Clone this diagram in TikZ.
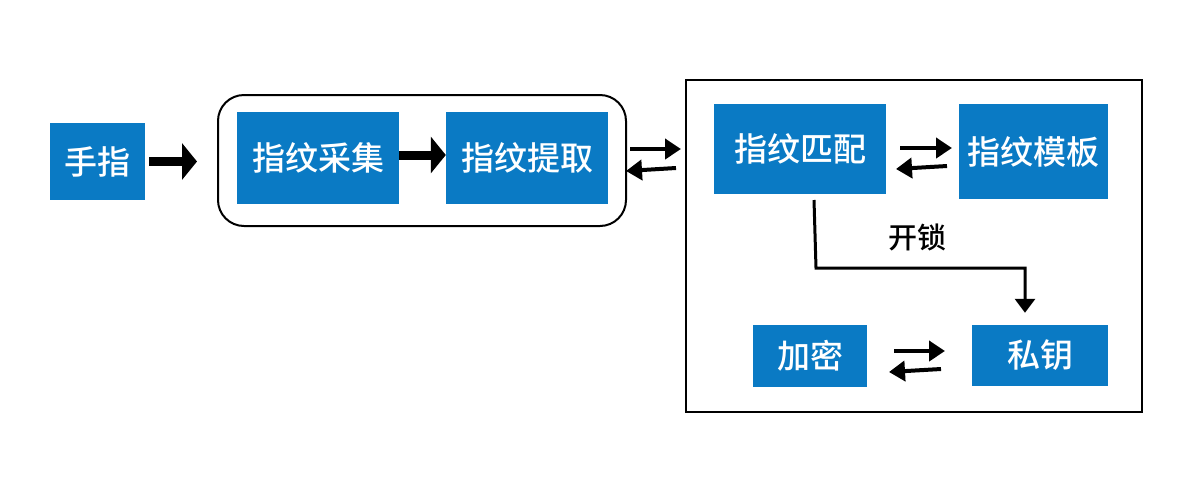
\documentclass[tikz,border=0pt]{standalone}
\usepackage{fontspec}
\newfontfamily\cjk{Noto Sans CJK SC}[BoldFont={Noto Sans CJK SC Medium}]
\usetikzlibrary{arrows.meta,calc}
\definecolor{boxblue}{RGB}{10,122,196}
\begin{document}
\begin{tikzpicture}[x=1pt,y=-1pt,
  bluebox/.style={fill=boxblue,draw=none,text=white,inner sep=0pt,
    font=\cjk\bfseries\fontsize{33}{36}\selectfont},
  bigarrow/.style={line width=9pt,-{Triangle[length=15pt,width=36pt]}},
  smallarrow/.style={line width=4pt,-{Triangle[length=16pt,width=20pt]}},
  linkarrow/.style={line width=3pt,-{Triangle[length=14pt,width=20pt]}}]
\useasboundingbox (0,0) rectangle (1200,483);
\fill[white] (0,0) rectangle (1200,483);
% containers
\node[draw,line width=2pt,rounded corners=26pt,minimum width=408pt,minimum height=131pt,inner sep=0pt] (group) at (422,160.5) {};
\node[draw,line width=2pt,minimum width=456pt,minimum height=332pt,inner sep=0pt] (sysbox) at (914,246) {};
% boxes
\node[bluebox,minimum width=95pt,minimum height=77pt] (finger) at (97.5,161.5) {手指};
\node[bluebox,minimum width=162pt,minimum height=92pt] (collect) at (318,158) {指纹采集};
\node[bluebox,minimum width=162pt,minimum height=92pt] (extract) at (527,158) {指纹提取};
\node[bluebox,minimum width=172pt,minimum height=90pt] (match) at (800,149) {指纹匹配};
\node[bluebox,minimum width=149pt,minimum height=95pt] (template) at (1033.5,151.5) {指纹模板};
\node[bluebox,minimum width=114pt,minimum height=62pt] (encrypt) at (810,356) {加密};
\node[bluebox,minimum width=136pt,minimum height=61pt] (key) at (1040,355.5) {私钥};
\node[font=\cjk\bfseries\fontsize{29}{32}\selectfont] (unlock) at (917,237) {开锁};
% big arrows
\draw[bigarrow] ([xshift=4pt]finger.east) -- ([xshift=-20pt]group.west |- finger.east);
\draw[bigarrow] ([yshift=3pt]collect.east) -- ([yshift=3pt]extract.west);
% group <-> sysbox
\coordinate (gs1) at (630,149);
\coordinate (gs2) at (681,149);
\coordinate (gs3) at (676,168);
\coordinate (gs4) at (626,171);
\draw[smallarrow] (gs1) -- (gs2);
\draw[smallarrow] (gs3) -- (gs4);
% match <-> template
\coordinate (mt1) at (900,148);
\coordinate (mt2) at (952,148);
\coordinate (mt3) at (947,166);
\coordinate (mt4) at (896,169);
\draw[smallarrow] (mt1) -- (mt2);
\draw[smallarrow] (mt3) -- (mt4);
% encrypt <-> key
\coordinate (ek1) at (894,351);
\coordinate (ek2) at (945,351);
\coordinate (ek3) at (941,369);
\coordinate (ek4) at (889,372);
\draw[smallarrow] (ek1) -- (ek2);
\draw[smallarrow] (ek3) -- (ek4);
% unlock connector
\coordinate (ul1) at (814,200);
\coordinate (ul2) at (816,268);
\coordinate (ul3) at (1025,268);
\draw[linkarrow] (ul1) -- (ul2) -- (ul3) -- ([yshift=12pt]ul3 |- key.north);
\end{tikzpicture}
\end{document}
